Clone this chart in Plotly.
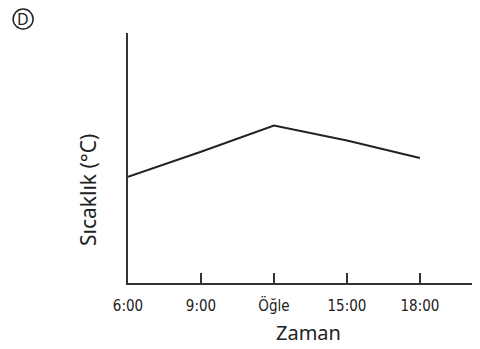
import plotly.graph_objects as go

hours = [6, 9, 12, 15, 18]
tick_labels = ["6:00", "9:00", "Öğle", "15:00", "18:00"]
temps = [4.25, 5.25, 6.3, 5.7, 5.0]

fig = go.Figure()
fig.add_trace(go.Scatter(x=hours, y=temps, mode="lines",
                         line=dict(color="#222222", width=2), showlegend=False))

fig.update_layout(
    width=472, height=341,
    margin=dict(l=120, r=0, t=25, b=66),
    paper_bgcolor="white", plot_bgcolor="white",
    xaxis=dict(range=[6, 20.47], tickvals=hours, ticktext=tick_labels,
               showgrid=False, zeroline=False, showline=True, linecolor="#333333", linewidth=2,
               ticks="inside", ticklen=10, tickwidth=2, tickcolor="#333333",
               ticklabelstandoff=8,
               tickfont=dict(family="Liberation Sans Narrow, DejaVu Sans Condensed", size=15, color="#222")),
    yaxis=dict(range=[0, 10], showgrid=False, zeroline=False, showticklabels=False,
               showline=True, linecolor="#333333", linewidth=2, ticks=""),
)
fig.add_annotation(text="Zaman", xref="paper", yref="paper",
                   x=0.514, y=-0.196, xanchor="center", yanchor="middle", showarrow=False,
                   font=dict(family="Noto Sans", size=20, color="#222"))
fig.add_annotation(text="Sıcaklık (°C)", textangle=-90, xref="paper", yref="paper",
                   x=-0.1136, y=0.372, xanchor="center", yanchor="middle", showarrow=False,
                   font=dict(family="Noto Sans", size=21, color="#222"))
fig.add_shape(type="circle", xref="paper", yref="paper", xsizemode="pixel", ysizemode="pixel",
              xanchor=-0.298, yanchor=1.056, x0=-10, x1=10, y0=-10, y1=10,
              line=dict(color="#222", width=1.5))
fig.add_annotation(text="D", xref="paper", yref="paper", x=-0.298, y=1.056, showarrow=False,
                   xanchor="center", yanchor="middle",
                   font=dict(family="Noto Sans", size=16, color="#222"))
fig.write_html("out.html")
